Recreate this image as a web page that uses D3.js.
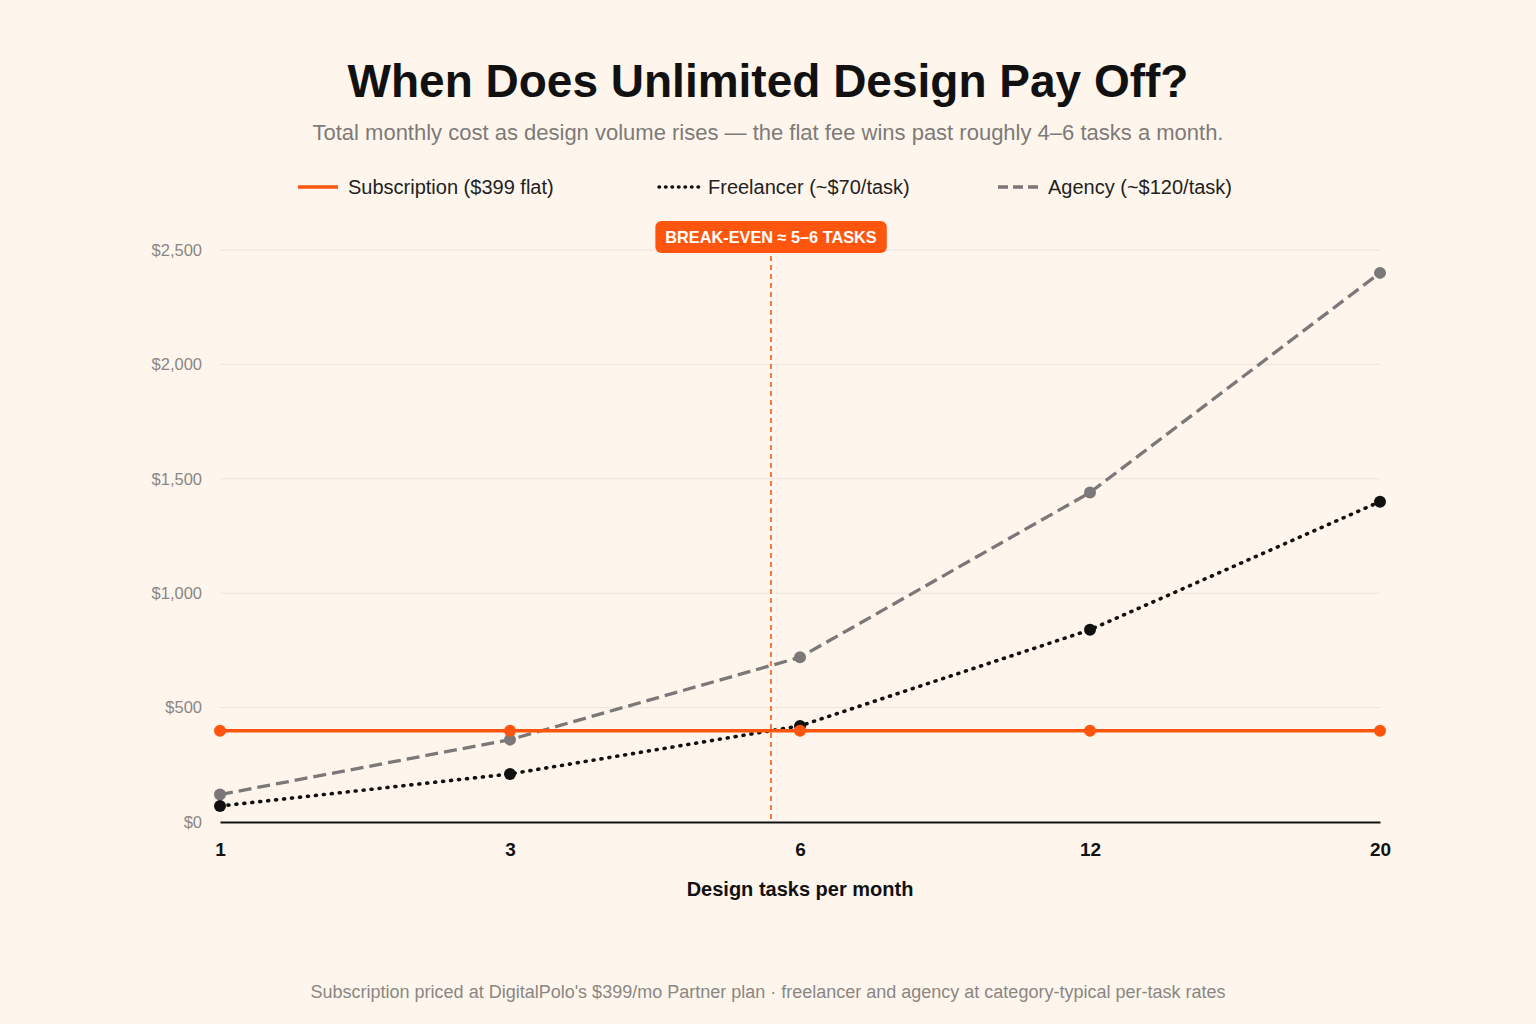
<!DOCTYPE html>
<html>
<head>
<meta charset="utf-8">
<script src="https://cdn.jsdelivr.net/npm/d3@7"></script>
<style>
  html, body { margin: 0; padding: 0; background: #FEF6EC; }
  svg { display: block; font-family: "Liberation Sans", Arial, Helvetica, sans-serif; }
</style>
</head>
<body>
<svg id="chart" width="1536" height="1024"></svg>
<script>
const categories = ["1", "3", "6", "12", "20"];
const subscription = [399, 399, 399, 399, 399];
const freelancer = [70, 210, 420, 840, 1400];
const agency = [120, 360, 720, 1440, 2400];
const yTicks = [0, 500, 1000, 1500, 2000, 2500];
const seriesNames = ["Subscription ($399 flat)", "Freelancer (~$70/task)", "Agency (~$120/task)"];
const titleText = "When Does Unlimited Design Pay Off?";
const subtitleText = "Total monthly cost as design volume rises — the flat fee wins past roughly 4–6 tasks a month.";
const breakEvenLabel = "BREAK-EVEN ≈ 5–6 TASKS";
const xTitle = "Design tasks per month";
const footerText = "Subscription priced at DigitalPolo's $399/mo Partner plan · freelancer and agency at category-typical per-task rates";

const ORANGE = "#FF560F", BLACK = "#111111", GREY = "#7A7878";

const svg = d3.select("#chart");
svg.append("rect").attr("width", 1536).attr("height", 1024).attr("fill", "#FEF6EC");

const x = d3.scalePoint().domain(categories).range([220, 1380]).padding(0);
const y = d3.scaleLinear().domain([0, 2500]).range([822, 250]);

// Title & subtitle
svg.append("text").attr("x", 768).attr("y", 97).attr("text-anchor", "middle")
  .attr("font-size", 46).attr("font-weight", 700).attr("fill", "#111").text(titleText);
svg.append("text").attr("x", 768).attr("y", 140).attr("text-anchor", "middle")
  .attr("font-size", 22).attr("fill", "#7d7a78").text(subtitleText);

// Legend
const legendItems = [
  { name: seriesNames[0], color: ORANGE, dash: null, cap: "butt", x0: 298 },
  { name: seriesNames[1], color: BLACK, dash: "0.5 6", cap: "round", x0: 659 },
  { name: seriesNames[2], color: GREY, dash: "10 5", cap: "butt", x0: 998 }
];
const lg = svg.append("g");
legendItems.forEach(it => {
  lg.append("line").attr("x1", it.x0).attr("x2", it.x0 + 40).attr("y1", 187).attr("y2", 187)
    .attr("stroke", it.color).attr("stroke-width", 3.5).attr("stroke-linecap", it.cap)
    .attr("stroke-dasharray", it.dash);
  lg.append("text").attr("x", it.x0 + 50 - (it.x0 === 659 ? 1 : 0)).attr("y", 194).attr("font-size", 20)
    .attr("fill", "#222").text(it.name);
});

// Gridlines
svg.append("g").selectAll("line").data(yTicks.filter(d => d > 0)).join("line")
  .attr("x1", 220).attr("x2", 1380).attr("y1", d => y(d)).attr("y2", d => y(d))
  .attr("stroke", "#ECE4DA").attr("stroke-width", 1);

// Y axis
const yAxis = svg.append("g").attr("transform", "translate(220,0)")
  .call(d3.axisLeft(y).tickValues(yTicks).tickSize(0).tickPadding(18)
    .tickFormat(d => "$" + d3.format(",")(d)));
yAxis.select(".domain").remove();
yAxis.selectAll("text").attr("font-size", 16.5).attr("fill", "#8a8684")
  .attr("font-family", "Liberation Sans, Arial, sans-serif");

// X axis
const xAxis = svg.append("g").attr("transform", "translate(0,822)")
  .call(d3.axisBottom(x).tickSize(0).tickPadding(21));
xAxis.select(".domain").attr("stroke", "#111").attr("stroke-width", 2);
xAxis.selectAll("text").attr("font-size", 19).attr("font-weight", 700).attr("fill", "#111")
  .attr("font-family", "Liberation Sans, Arial, sans-serif");

svg.append("text").attr("x", 800).attr("y", 896).attr("text-anchor", "middle")
  .attr("font-size", 20).attr("font-weight", 700).attr("fill", "#111").text(xTitle);

// Break-even position: where freelancer crosses subscription (in screen space)
let beX = null;
for (let i = 0; i < categories.length - 1; i++) {
  const a = freelancer[i] - subscription[i], b = freelancer[i + 1] - subscription[i + 1];
  if (a <= 0 && b > 0) {
    const t = a / (a - b);
    beX = x(categories[i]) + t * (x(categories[i + 1]) - x(categories[i]));
    break;
  }
}
svg.append("line").attr("x1", beX).attr("x2", beX).attr("y1", 256).attr("y2", 822)
  .attr("stroke", ORANGE).attr("stroke-width", 1.6).attr("stroke-dasharray", "5 4");
const lab = svg.append("g");
const labText = lab.append("text").attr("x", beX).attr("y", 243).attr("text-anchor", "middle")
  .attr("font-size", 16.3).attr("font-weight", 700).attr("fill", "#fff")
  .text(breakEvenLabel);
const bb = labText.node().getBBox();
lab.insert("rect", "text").attr("x", bb.x - 10).attr("y", 221).attr("width", bb.width + 20).attr("height", 32)
  .attr("rx", 6).attr("fill", ORANGE);

// Series
const line = d3.line().x((d, i) => x(categories[i])).y(d => y(d));
const series = [
  { data: agency, color: GREY, dash: "13 6", cap: "butt", w: 3.3 },
  { data: freelancer, color: BLACK, dash: "1 7", cap: "round", w: 3.6 },
  { data: subscription, color: ORANGE, dash: null, cap: "butt", w: 3.5 }
];
series.forEach(s => {
  svg.append("path").datum(s.data).attr("d", line).attr("fill", "none")
    .attr("stroke", s.color).attr("stroke-width", s.w)
    .attr("stroke-dasharray", s.dash).attr("stroke-linecap", s.cap);
  svg.append("g").selectAll("circle").data(s.data).join("circle")
    .attr("cx", (d, i) => x(categories[i])).attr("cy", d => y(d)).attr("r", 6)
    .attr("fill", s.color);
});

// Footer
svg.append("text").attr("x", 768).attr("y", 998).attr("text-anchor", "middle")
  .attr("font-size", 18).attr("fill", "#8a8684").text(footerText);
</script>
</body>
</html>
